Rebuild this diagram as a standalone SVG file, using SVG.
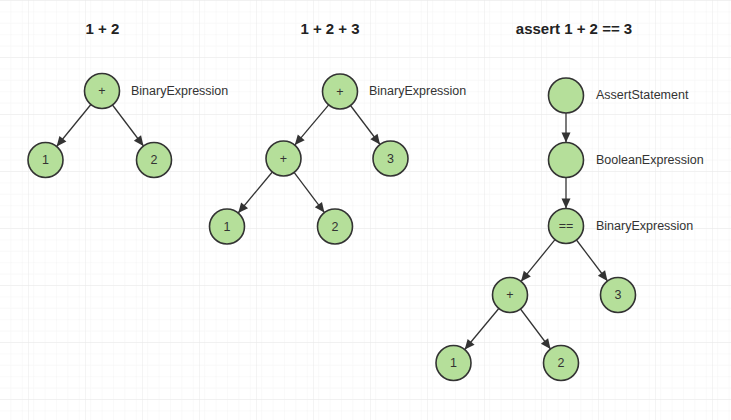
<svg xmlns="http://www.w3.org/2000/svg" width="731" height="420" viewBox="0 0 731 420">
<defs>
<pattern id="minor" width="11.4" height="11.4" patternUnits="userSpaceOnUse" x="28" y="0">
<path d="M0 0H11.4M0 0V11.4" fill="none" stroke="#f3f3f3" stroke-width="1"/>
</pattern>
<pattern id="major" width="57" height="57" patternUnits="userSpaceOnUse" x="28" y="0">
<rect width="57" height="57" fill="url(#minor)"/>
<path d="M0 0H57M0 0V57" fill="none" stroke="#e9e9e9" stroke-width="1"/>
</pattern>
<marker id="arr" markerUnits="userSpaceOnUse" markerWidth="12" markerHeight="12" viewBox="0 0 12 12" refX="11" refY="6" orient="auto">
<path d="M1 1.5L11 6L1 10.5Z" fill="#333"/>
</marker>
</defs>
<style>
.n circle{fill:#b5df9a;stroke:#333;stroke-width:1.6}
.n text{font-family:"Liberation Sans",Arial,sans-serif;font-size:12.5px;fill:#333;text-anchor:middle;dominant-baseline:central}
.lbl{font-family:"Liberation Sans",Arial,sans-serif;font-size:12.5px;fill:#333;dominant-baseline:central}
.title{font-family:"Liberation Sans",Arial,sans-serif;font-size:15px;font-weight:bold;fill:#222;text-anchor:middle}
#edges line{stroke:#333;stroke-width:1.3;marker-end:url(#arr)}
</style>
<rect width="731" height="420" fill="#fff"/>
<rect width="731" height="420" fill="url(#major)"/>

<text class="title" x="102.5" y="34">1 + 2</text>
<text class="title" x="330" y="34">1 + 2 + 3</text>
<text class="title" x="574" y="34">assert 1 + 2 == 3</text>

<g id="edges">
<line x1="90.9" y1="104.5" x2="56.6" y2="146.5"/>
<line x1="112.5" y1="105" x2="143.5" y2="146"/>
<line x1="328.7" y1="104.9" x2="294.8" y2="145.1"/>
<line x1="350.5" y1="105.5" x2="380" y2="144.5"/>
<line x1="272.3" y1="172" x2="238.2" y2="213"/>
<line x1="294.1" y1="172.4" x2="324.4" y2="212.6"/>
<line x1="566" y1="113" x2="566" y2="142.5"/>
<line x1="566" y1="177.5" x2="566" y2="208.5"/>
<line x1="555" y1="239.6" x2="521" y2="281.4"/>
<line x1="576.5" y1="240" x2="607.5" y2="281"/>
<line x1="498.8" y1="308.5" x2="464.7" y2="349.5"/>
<line x1="520.5" y1="309" x2="550.5" y2="349"/>
</g>

<g id="t1-plus" class="n"><circle cx="102" cy="91" r="17.5"/><text x="102" y="91">+</text></g>
<g id="t1-one" class="n"><circle cx="45.5" cy="160" r="17.5"/><text x="45.5" y="160">1</text></g>
<g id="t1-two" class="n"><circle cx="154" cy="160" r="17.5"/><text x="154" y="160">2</text></g>
<text class="lbl" x="131" y="90.5">BinaryExpression</text>

<g id="t2-plus-top" class="n"><circle cx="340" cy="91.5" r="17.5"/><text x="340" y="91.5">+</text></g>
<g id="t2-plus-left" class="n"><circle cx="283.5" cy="158.5" r="17.5"/><text x="283.5" y="158.5">+</text></g>
<g id="t2-three" class="n"><circle cx="390.5" cy="158.5" r="17.5"/><text x="390.5" y="158.5">3</text></g>
<g id="t2-one" class="n"><circle cx="227" cy="226.5" r="17.5"/><text x="227" y="226.5">1</text></g>
<g id="t2-two" class="n"><circle cx="335" cy="226.5" r="17.5"/><text x="335" y="226.5">2</text></g>
<text class="lbl" x="369" y="90.5">BinaryExpression</text>

<g id="t3-assert" class="n"><circle cx="566" cy="95.5" r="17.5"/></g>
<g id="t3-bool" class="n"><circle cx="566" cy="160" r="17.5"/></g>
<g id="t3-eq" class="n"><circle cx="566" cy="226" r="17.5"/><text x="566" y="226">==</text></g>
<g id="t3-plus" class="n"><circle cx="510" cy="295" r="17.5"/><text x="510" y="295">+</text></g>
<g id="t3-three" class="n"><circle cx="618" cy="295" r="17.5"/><text x="618" y="295">3</text></g>
<g id="t3-one" class="n"><circle cx="453.5" cy="363" r="17.5"/><text x="453.5" y="363">1</text></g>
<g id="t3-two" class="n"><circle cx="561" cy="363" r="17.5"/><text x="561" y="363">2</text></g>
<text class="lbl" x="596" y="94.5">AssertStatement</text>
<text class="lbl" x="596" y="159.5">BooleanExpression</text>
<text class="lbl" x="596" y="225.5">BinaryExpression</text>
</svg>
